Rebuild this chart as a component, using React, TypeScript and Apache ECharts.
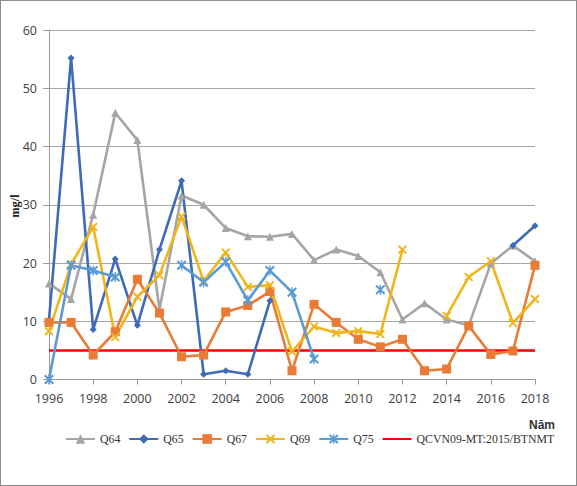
import React, { useEffect, useRef } from "react";
import * as echarts from "echarts";

const years = ["1996","1997","1998","1999","2000","2001","2002","2003","2004","2005","2006","2007","2008","2009","2010","2011","2012","2013","2014","2015","2016","2017","2018"];
const q64 = [16.5,13.8,28.3,45.8,41.1,12.0,31.6,30.0,26.0,24.6,24.5,25.0,20.5,22.3,21.2,18.4,10.3,13.1,10.3,9.3,19.9,23.0,20.3];
const q65 = [10.2,55.2,8.6,20.7,9.3,22.3,34.1,0.9,1.5,0.9,13.5,null,null,null,null,null,null,null,null,null,null,23.0,26.4];
const q67 = [9.8,9.8,4.2,8.2,17.2,11.4,3.9,4.2,11.6,12.7,15.1,1.5,12.9,9.8,6.9,5.6,6.9,1.5,1.8,9.2,4.3,4.9,19.6];
const q69 = [8.3,19.8,26.2,7.3,14.2,17.9,28.0,16.9,21.8,15.9,16.2,4.8,9.1,8.0,8.3,7.8,22.3,null,10.9,17.6,20.3,9.7,13.8];
const q75 = [0,19.6,18.7,17.6,null,null,19.6,16.7,20.2,13.6,18.7,15.0,3.5,null,null,15.4,null,null,null,null,null,null,null];
const limitValue = 5;
const limit = years.map(() => limitValue);
const yTicks = { min: 0, max: 60, interval: 10 };

const X_SYM = "path://M0,1.5L1.5,0L10,8.5L8.5,10Z M8.5,0L10,1.5L1.5,10L0,8.5Z";
const AST_SYM = "path://M0,1.5L1.5,0L10,8.5L8.5,10Z M8.5,0L10,1.5L1.5,10L0,8.5Z M4.3,0L5.7,0L5.7,10L4.3,10Z";

export default function App() {
  const ref = useRef<HTMLDivElement>(null);
  useEffect(() => {
    document.body.style.margin = "0";
    const chart = echarts.init(ref.current!, null, { renderer: "svg" });
    const mk = (name: string, data: any[], color: string, symbol: string, size: number, z = 2) => ({
      name,
      type: "line",
      data,
      symbol,
      symbolSize: size,
      showSymbol: true,
      connectNulls: false,
      z,
      lineStyle: { color, width: 2.6 },
      itemStyle: { color, borderWidth: 0 },
    });
    chart.setOption({
      animation: false,
      backgroundColor: "#ffffff",
      grid: { left: 48, right: 41, top: 29, bottom: 105.5, outerBoundsMode: "none", containLabel: false },
      legend: {
        left: 64,
        top: 432,
        width: 540,
        orient: "horizontal",
        padding: 0,
        itemWidth: 29,
        itemHeight: 12,
        itemGap: 8,
        textStyle: { fontFamily: "Liberation Serif", fontSize: 11.8, color: "#333" },
        data: [
          "Q64",
          "Q65",
          "Q67",
          "Q69",
          "Q75",
          { name: "QCVN09-MT:2015/BTNMT", itemStyle: { opacity: 0 } },
        ],
      },
      graphic: [
        {
          type: "text",
          left: 528,
          top: 418,
          style: { text: "Năm", font: "bold 12px 'Liberation Sans'", fill: "#333" },
        },
        {
          type: "text",
          x: 14,
          y: 205,
          rotation: Math.PI / 2,
          style: {
            text: "mg/l",
            font: "bold 12.5px 'Liberation Serif'",
            fill: "#222",
            align: "center",
            verticalAlign: "middle",
          },
        },
      ],
      xAxis: {
        type: "category",
        data: years,
        boundaryGap: false,
        axisLine: { lineStyle: { color: "#9a9a9a", width: 1 } },
        axisTick: { show: true, interval: 1, length: 5, lineStyle: { color: "#9a9a9a" } },
        axisLabel: { interval: 1, margin: 12, fontFamily: "Open Sans", fontSize: 12.5, color: "#404040" },
        splitLine: { show: false },
      },
      yAxis: {
        type: "value",
        min: yTicks.min,
        max: yTicks.max,
        interval: yTicks.interval,
        axisLine: { show: true, lineStyle: { color: "#9a9a9a", width: 1 } },
        axisTick: { show: true, length: 6, lineStyle: { color: "#9a9a9a" } },
        axisLabel: { margin: 12, fontFamily: "Open Sans", fontSize: 12.5, color: "#404040" },
        splitLine: { lineStyle: { color: "#a6a6a6", width: 1 } },
      },
      series: [
        mk("Q64", q64, "#A5A5A5", "triangle", 8),
        mk("Q65", q65, "#3E6AB8", "diamond", 7),
        mk("Q67", q67, "#E87B35", "rect", 9),
        mk("Q69", q69, "#F0B51A", X_SYM, 9),
        mk("Q75", q75, "#5B9BD5", AST_SYM, 10),
        {
          name: "QCVN09-MT:2015/BTNMT",
          type: "line",
          data: limit,
          symbol: "none",
          showSymbol: false,
          lineStyle: { color: "#FF0000", width: 2.5 },
          itemStyle: { color: "#FF0000" },
          z: 1,
        },
      ],
    });
    return () => chart.dispose();
  }, []);
  return (
    <div style={{ width: 577, height: 486, boxSizing: "border-box", border: "1px solid #8c8c8c", background: "#fff" }}>
      <div ref={ref} style={{ width: 575, height: 484 }} />
    </div>
  );
}
